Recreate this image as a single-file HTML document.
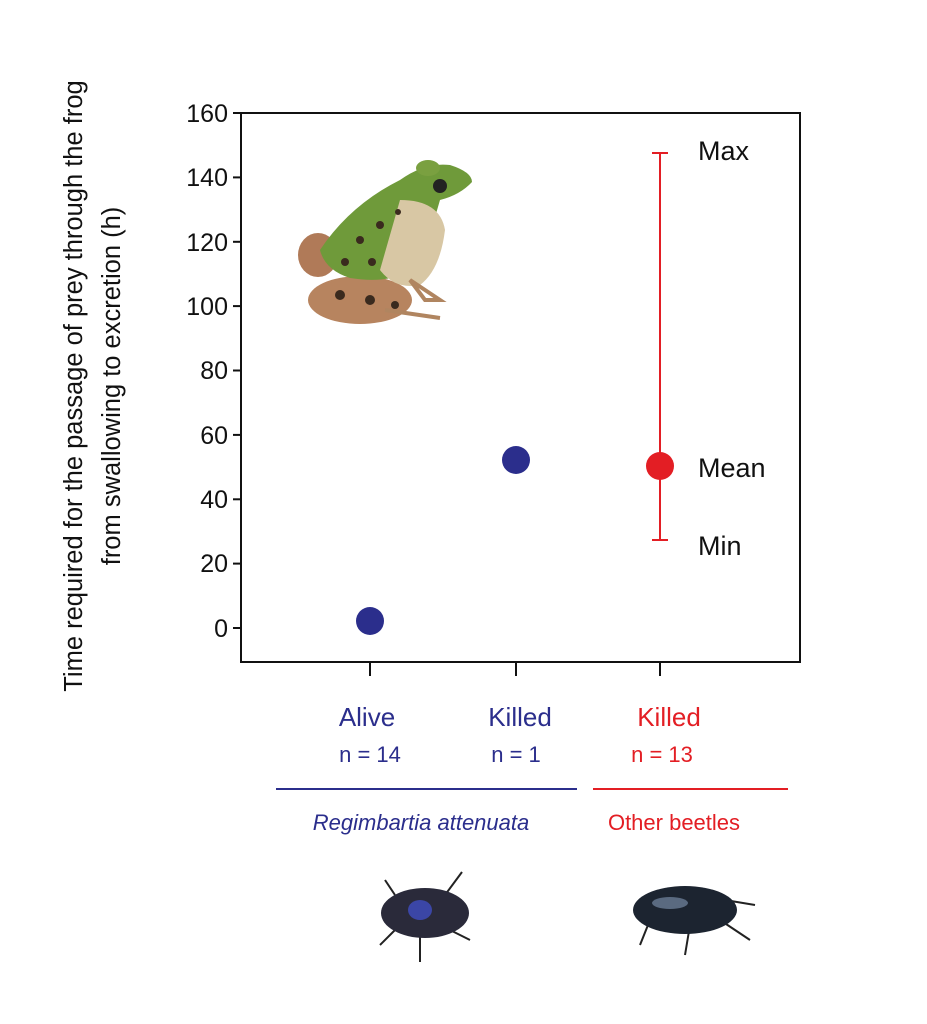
<!DOCTYPE html>
<html><head><meta charset="utf-8"><style>
html,body{margin:0;padding:0;background:#fff;}
svg{display:block;}
text{font-family:"Liberation Sans",Arial,sans-serif;}
</style></head><body>
<svg width="927" height="1024" viewBox="0 0 927 1024" xmlns="http://www.w3.org/2000/svg">
<rect width="927" height="1024" fill="#fff"/>
<rect x="241" y="113" width="559" height="549" fill="none" stroke="#111" stroke-width="2"/>
<g stroke="#111" stroke-width="2">
<line x1="233" y1="113" x2="241" y2="113"/>
<line x1="233" y1="177.4" x2="241" y2="177.4"/>
<line x1="233" y1="241.8" x2="241" y2="241.8"/>
<line x1="233" y1="306.1" x2="241" y2="306.1"/>
<line x1="233" y1="370.5" x2="241" y2="370.5"/>
<line x1="233" y1="434.9" x2="241" y2="434.9"/>
<line x1="233" y1="499.3" x2="241" y2="499.3"/>
<line x1="233" y1="563.6" x2="241" y2="563.6"/>
<line x1="233" y1="628" x2="241" y2="628"/>
<line x1="370" y1="662" x2="370" y2="676"/>
<line x1="516" y1="662" x2="516" y2="676"/>
<line x1="660" y1="662" x2="660" y2="676"/>
</g>
<g font-size="25" fill="#111" text-anchor="end">
<text x="228" y="122">160</text>
<text x="228" y="186">140</text>
<text x="228" y="251">120</text>
<text x="228" y="315">100</text>
<text x="228" y="379">80</text>
<text x="228" y="444">60</text>
<text x="228" y="508">40</text>
<text x="228" y="572">20</text>
<text x="228" y="637">0</text>
</g>
<g font-size="25.5" fill="#111" text-anchor="middle">
<text transform="translate(82,386) rotate(-90)">Time required for the passage of prey through the frog</text>
<text transform="translate(120,386) rotate(-90)">from swallowing to excretion (h)</text>
</g>
<circle cx="370" cy="621" r="14" fill="#2b2e8c"/>
<circle cx="516" cy="460" r="14" fill="#2b2e8c"/>
<g stroke="#e31e24" stroke-width="2">
<line x1="660" y1="153" x2="660" y2="540"/>
<line x1="652" y1="153" x2="668" y2="153"/>
<line x1="652" y1="540" x2="668" y2="540"/>
</g>
<circle cx="660" cy="466" r="14" fill="#e31e24"/>
<g font-size="27" fill="#111">
<text x="698" y="160">Max</text>
<text x="698" y="477">Mean</text>
<text x="698" y="555">Min</text>
</g>
<g font-size="26" text-anchor="middle">
<text x="367" y="726" fill="#2b2e8c">Alive</text>
<text x="520" y="726" fill="#2b2e8c">Killed</text>
<text x="669" y="726" fill="#e31e24">Killed</text>
</g>
<g font-size="22" text-anchor="middle">
<text x="370" y="762" fill="#2b2e8c">n = 14</text>
<text x="516" y="762" fill="#2b2e8c">n = 1</text>
<text x="662" y="762" fill="#e31e24">n = 13</text>
</g>
<line x1="276" y1="789" x2="577" y2="789" stroke="#2b2e8c" stroke-width="2"/>
<line x1="593" y1="789" x2="788" y2="789" stroke="#e31e24" stroke-width="2"/>
<text x="421" y="830" font-size="22" font-style="italic" fill="#2b2e8c" text-anchor="middle">Regimbartia attenuata</text>
<text x="674" y="830" font-size="22" fill="#e31e24" text-anchor="middle">Other beetles</text>
<g>
<ellipse cx="360" cy="300" rx="52" ry="24" fill="#b7845f"/>
<ellipse cx="318" cy="255" rx="20" ry="22" fill="#b07a58"/>
<path d="M320 250 Q350 205 400 180 Q425 162 450 165 Q472 172 472 182 Q460 195 440 200 Q430 235 420 265 Q395 285 350 278 Q325 270 320 250Z" fill="#6f9a3a"/>
<path d="M400 200 Q440 200 445 230 Q440 270 420 285 Q395 290 380 270Z" fill="#d8c7a4"/>
<ellipse cx="428" cy="168" rx="12" ry="8" fill="#7aa040"/>
<circle cx="440" cy="186" r="7" fill="#222"/>
<path d="M410 280 L440 300 L425 300Z M385 310 L440 318" stroke="#b08560" stroke-width="4" fill="none"/>
<g fill="#3a2a1e">
<circle cx="360" cy="240" r="4"/><circle cx="380" cy="225" r="4"/><circle cx="345" cy="262" r="4"/><circle cx="398" cy="212" r="3"/><circle cx="372" cy="262" r="4"/><circle cx="340" cy="295" r="5"/><circle cx="370" cy="300" r="5"/><circle cx="395" cy="305" r="4"/>
</g>
</g>
<g stroke="#222" stroke-width="2">
<line x1="395" y1="895" x2="385" y2="880"/><line x1="445" y1="895" x2="462" y2="872"/>
<line x1="395" y1="930" x2="380" y2="945"/><line x1="420" y1="935" x2="420" y2="962"/><line x1="450" y1="930" x2="470" y2="940"/>
<line x1="650" y1="920" x2="640" y2="945"/><line x1="690" y1="925" x2="685" y2="955"/><line x1="720" y1="920" x2="750" y2="940"/><line x1="725" y1="900" x2="755" y2="905"/>
</g>
<ellipse cx="425" cy="913" rx="44" ry="25" fill="#2a2a3a"/>
<ellipse cx="420" cy="910" rx="12" ry="10" fill="#3b46a6"/>
<ellipse cx="685" cy="910" rx="52" ry="24" fill="#1c2430"/>
<ellipse cx="670" cy="903" rx="18" ry="6" fill="#5a6a80"/>
</svg>
</body></html>
